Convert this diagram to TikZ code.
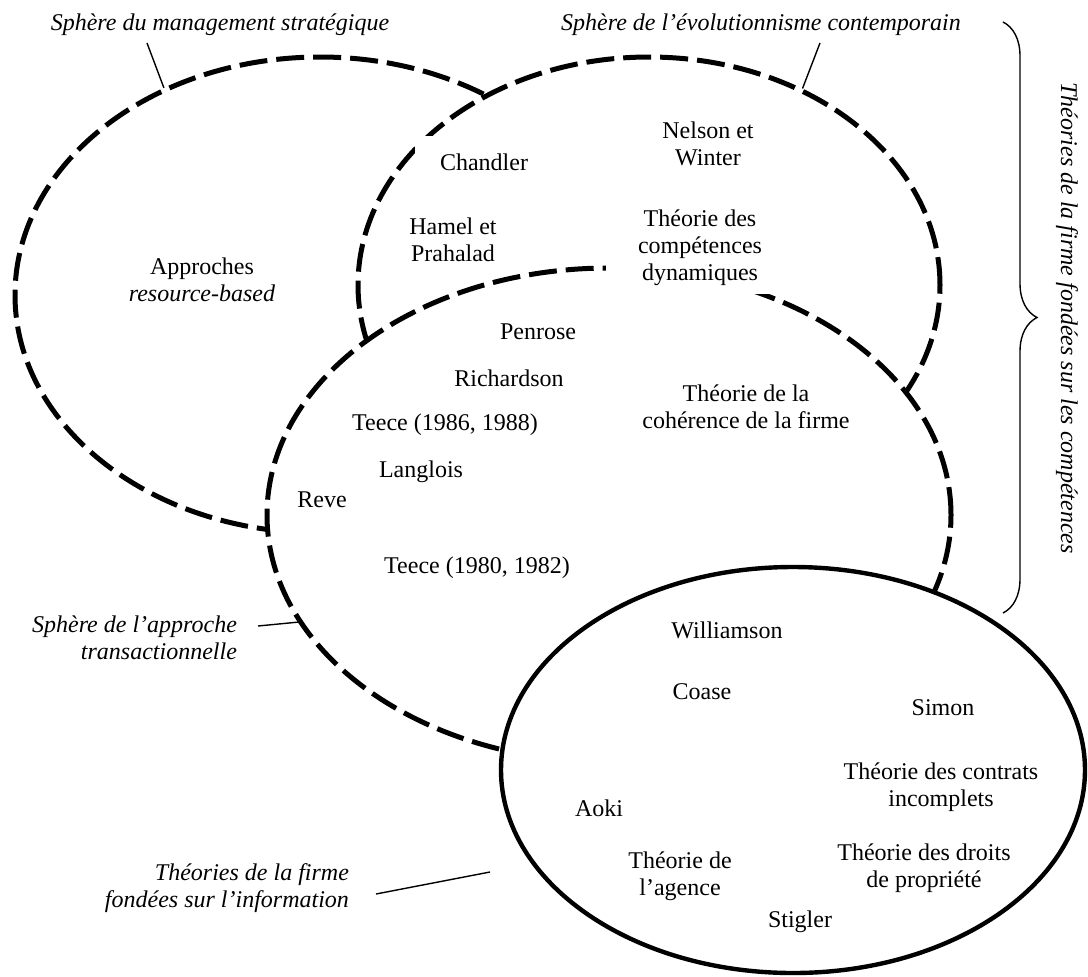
\documentclass[tikz,border=0pt]{standalone}
\usepackage{fontspec}
\setmainfont{Liberation Serif}
\usetikzlibrary{shapes.geometric, decorations.pathreplacing}

\begin{document}
\begin{tikzpicture}[x=0.5pt, y=-0.5pt, font=\fontsize{12}{13.5}\selectfont,
	sphere/.style={ellipse, draw, fill=white, inner sep=0pt, line width=2.5pt, dash pattern=on 14pt off 4.5pt},
	infosphere/.style={ellipse, draw, fill=white, inner sep=0pt, line width=2.2pt},
	auth/.style={align=center, inner sep=1pt},
	tag/.style={font=\fontsize{12}{13.5}\selectfont\itshape},
	leader/.style={line width=0.7pt}]

\useasboundingbox (0,0) rectangle (1088,976);

\node[sphere, minimum width=305pt, minimum height=238pt] (strat) at (320,295) {};
\node[sphere, minimum width=291pt, minimum height=228pt] (evol) at (649,285) {};
\node[sphere, minimum width=342pt, minimum height=247pt] (trans) at (609,515) {};
\node[infosphere, minimum width=292pt, minimum height=203pt] (info) at (793,770) {};

\node[tag] (strat-label) at (220,25) {Sphère du management stratégique};
\node[tag] (evol-label) at (761,25) {Sphère de l’évolutionnisme contemporain};
\node[tag, align=right, anchor=east] (trans-label) at (244,638) {Sphère de l’approche\\transactionnelle};
\node[tag, align=right, anchor=east] (info-label) at (356,888) {Théories de la firme\\fondées sur l’information};
\node[tag, rotate=-90] (comp-label) at (1067,318) {Théories de la firme fondées sur les compétences};

\node[auth] (resource) at (202,280) {Approches\\\textit{resource-based}};
\node[auth, fill=white, inner xsep=12.5pt, inner ysep=9pt] (chandler) at (484,162) {Chandler};
\node[auth] (hamel) at (453,240) {Hamel et\\Prahalad};
\node[auth] (nelson) at (708,144) {Nelson et\\Winter};
\node[auth, fill=white, inner xsep=16pt, inner ysep=4pt] (dyn) at (700,248) {Théorie des\\compétences\\dynamiques};
\node[auth] (penrose) at (538,332) {Penrose};
\node[auth] (richardson) at (509,378) {Richardson};
\node[auth] (coherence) at (746,407) {Théorie de la\\cohérence de la firme};
\node[auth] (teece-86) at (445,425) {Teece (1986, 1988)};
\node[auth] (langlois) at (421,472) {Langlois};
\node[auth] (reve) at (322,500) {Reve};
\node[auth] (teece-80) at (477,568) {Teece (1980, 1982)};

\node[auth] (williamson) at (727,630) {Williamson};
\node[auth] (coase) at (702,692) {Coase};
\node[auth] (simon) at (943,708) {Simon};
\node[auth] (contrats) at (941,787) {Théorie des contrats\\incomplets};
\node[auth] (aoki) at (599,808) {Aoki};
\node[auth] (agence) at (680,876) {Théorie de\\l’agence};
\node[auth] (droits) at (924,868) {Théorie des droits\\de propriété};
\node[auth] (stigler) at (800,922) {Stigler};

\coordinate (info-tip) at (490,872);
\coordinate (brace-top) at (1003,22);
\coordinate (brace-bot) at (1003,613);

\draw[leader] ([xshift=-36.5pt]strat-label.south) -- (strat.127);
\draw[leader] ([xshift=29.5pt]evol-label.south) -- (evol.52);
\draw[leader] ([xshift=7pt, yshift=6pt]trans-label.east) -- (trans.199);
\draw[leader] ([xshift=10pt, yshift=-3pt]info-label.east) -- (info-tip);

\draw[line width=0.7pt, decorate, decoration={brace, amplitude=17pt}] (brace-top) -- (brace-bot);

\end{tikzpicture}
\end{document}
